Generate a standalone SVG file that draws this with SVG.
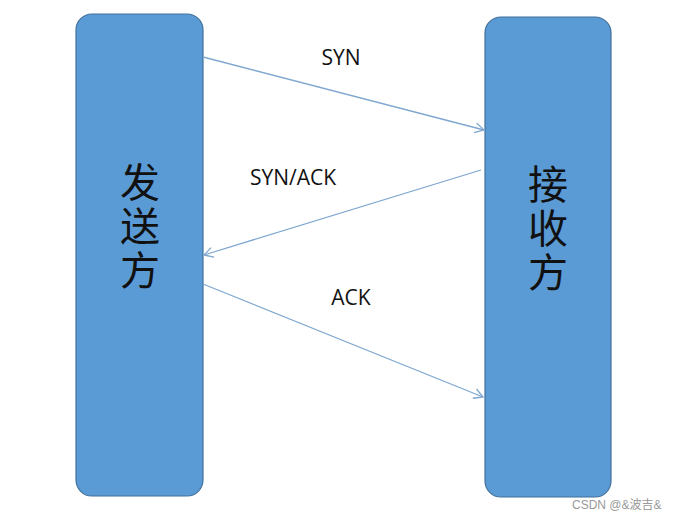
<svg xmlns="http://www.w3.org/2000/svg" width="686" height="516" viewBox="0 0 686 516">
<style>
.box{fill:#5b9bd5;stroke:#41719c;stroke-width:1.2}
.big{font-family:"Noto Sans CJK SC",sans-serif;font-size:40px;fill:#111;text-anchor:middle;writing-mode:vertical-rl;letter-spacing:4px}
.lbl{font-family:"Open Sans","Liberation Sans",sans-serif;font-size:21px;fill:#111;text-anchor:middle}
.conn{stroke:#7fa7cf;stroke-width:1.3;fill:none;marker-end:url(#ah)}
.wm{font-family:"Liberation Sans","Noto Sans CJK SC",sans-serif;font-size:12px;fill:#999}
</style>
<defs>
<marker id="ah" markerWidth="12" markerHeight="12" refX="10" refY="6" orient="auto" markerUnits="userSpaceOnUse">
<path d="M1,1 L10,6 L1,11" fill="none" stroke="#7fa7cf" stroke-width="1.3"/>
</marker>
</defs>
<rect width="686" height="516" fill="#fff"/>
<g id="sender">
<rect class="box" x="76" y="14" width="127" height="482" rx="16"/>
<text class="big" x="140" y="228">发送方</text>
</g>
<g id="receiver">
<rect class="box" x="485" y="17" width="126" height="480" rx="16"/>
<text class="big" x="548" y="230">接收方</text>
</g>
<g id="connectors">
<line class="conn" x1="203" y1="57" x2="484" y2="130"/>
<line class="conn" x1="481" y1="170" x2="204" y2="255"/>
<line class="conn" x1="203" y1="284" x2="483" y2="397"/>
</g>
<g id="labels">
<text class="lbl" x="341" y="65">SYN</text>
<text class="lbl" x="293" y="185">SYN/ACK</text>
<text class="lbl" x="351" y="305">ACK</text>
</g>
<text class="wm" x="572" y="509">CSDN @&amp;波吉&amp;</text>
</svg>
